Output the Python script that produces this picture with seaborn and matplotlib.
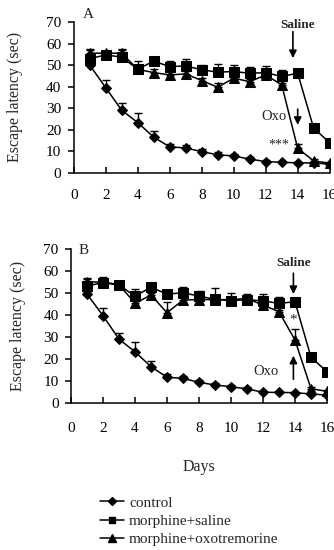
import numpy as np
import pandas as pd
import matplotlib
matplotlib.use("Agg")
import matplotlib.pyplot as plt
import seaborn as sns
from matplotlib.lines import Line2D

sns.set_theme(style="ticks")
plt.rcParams['font.family'] = ['Liberation Serif', 'DejaVu Serif']

days = list(range(1, 17))
groups = ["control", "morphine+saline", "morphine+oxotremorine"]

# Panel A
a_control = [50, 39.5, 29, 23.3, 16.5, 12, 11.5, 9.8, 8.3, 7.8, 6.3, 5.2, 4.8, 4.6, 4.5, 4.0]
a_saline = [53, 54.7, 53.7, 48.1, 51.8, 49.3, 49.6, 47.8, 46.7, 47, 46.2, 46.5, 44.7, 46.2, 20.6, 14]
a_oxo = [55.5, 55.5, 55.5, 48, 46.5, 45.4, 45.9, 42.8, 39.7, 43.9, 42.3, 45.4, 40.8, 11.3, 5.5, 4.4]
a_control_err = [1, 3.7, 3.4, 4.6, 2.8, 1.5, 1.3, 1, 1.2, 1, 0.8, 0.6, 0.5, 0.5, 0.5, 0.5]
a_saline_err = [4, 2, 3.5, 4, 2, 2.5, 3.3, 2, 3.8, 3, 3, 3, 3, 2, 1, 1]
a_oxo_err = [2, 1, 2, 1, 1.5, 1.5, 1.5, 1, 2, 1, 1, 1, 1, 2, 1, 0.5]

# Panel B
b_control = [49.5, 39.7, 29, 23.3, 16.5, 11.7, 11.2, 9.4, 8.2, 7.4, 6.4, 4.9, 4.8, 4.7, 4.1, 3.6]
b_saline = [53.2, 54.7, 53.6, 48.6, 52.6, 49.5, 50.1, 48.6, 47.1, 46.5, 47, 46.4, 45.3, 46, 20.8, 14.2]
b_oxo = [55, 55, 53.8, 45.3, 49.1, 41, 46.8, 47, 47, 47, 47.5, 44.5, 41.5, 28.6, 6.5, 5.3]
b_control_err = [1, 3.7, 3.0, 4.6, 2.8, 1.3, 1.3, 1, 1, 1, 0.8, 0.6, 0.5, 0.5, 0.5, 0.5]
b_saline_err = [3, 2.5, 1.5, 3, 1, 2, 2.8, 2.5, 5, 3.4, 2.5, 3, 2.7, 1.5, 1.5, 1]
b_oxo_err = [2, 1, 1, 1.5, 1, 4.8, 1.5, 2, 1, 1, 1, 1, 1, 5, 1, 0.5]

xticks = [0, 2, 4, 6, 8, 10, 12, 14, 16]
yticks = [0, 10, 20, 30, 40, 50, 60, 70]

markers = {"control": "D", "morphine+saline": "s", "morphine+oxotremorine": "^"}
msizes = {"control": 5.5, "morphine+saline": 6.5, "morphine+oxotremorine": 7}

fig = plt.figure(figsize=(3.34, 5.5), dpi=100)
axA = fig.add_axes([73.7 / 334, (550 - 172.7) / 550, 256 / 334, 150.7 / 550])
axB = fig.add_axes([71 / 334, 147 / 550, 256 / 334, 154 / 550])


def draw(ax, vals, errs, xpad, ylabel_x):
    # draw order: oxo, saline, control
    for g in [groups[2], groups[1], groups[0]]:
        v = vals[g]
        e = errs[g]
        ax.errorbar(days, v, yerr=[np.zeros(len(e)), e], fmt='none', ecolor='black',
                    elinewidth=1.0, capsize=3, capthick=1.0, zorder=2)
        df = pd.DataFrame({"day": days, "val": v})
        sns.lineplot(data=df, x="day", y="val", ax=ax, color="black", lw=1.1,
                     marker=markers[g], markersize=msizes[g], markeredgecolor="black",
                     markerfacecolor="black", zorder=3)
    ax.set_xlim(0, 16)
    ax.set_ylim(0, 70)
    ax.set_xticks(xticks)
    ax.set_yticks(yticks)
    ax.set_xlabel("")
    ax.set_ylabel("Escape latency (sec)", fontsize=11.5)
    ax.yaxis.set_label_coords(ylabel_x, 0.5)
    for s in ["top", "right"]:
        ax.spines[s].set_visible(False)
    for s in ["left", "bottom"]:
        ax.spines[s].set_linewidth(1.1)
        ax.spines[s].set_color("black")
    ax.tick_params(axis="x", direction="in", length=4, width=1.1, pad=xpad, labelsize=11, colors="black")
    ax.tick_params(axis="y", direction="out", length=4, width=1.1, pad=5, labelsize=11, colors="black")


valsA = {groups[0]: a_control, groups[1]: a_saline, groups[2]: a_oxo}
errsA = {groups[0]: a_control_err, groups[1]: a_saline_err, groups[2]: a_oxo_err}
valsB = {groups[0]: b_control, groups[1]: b_saline, groups[2]: b_oxo}
errsB = {groups[0]: b_control_err, groups[1]: b_saline_err, groups[2]: b_oxo_err}

draw(axA, valsA, errsA, 12, -0.198)
draw(axB, valsB, errsB, 14, -0.176)
axB.set_xlabel("Days", fontsize=11.5, labelpad=17)

arrow = dict(arrowstyle="-|>", color="black", lw=1.2, mutation_scale=11, shrinkA=0, shrinkB=0)

# Panel A annotations
axA.text(0.9, 73.5, "A", fontsize=11, ha="center", va="center")
axA.text(14.0, 68.7, "Saline", fontsize=9.5, fontweight="bold", ha="center", va="center")
axA.annotate("", xy=(13.7, 53.2), xytext=(13.7, 65.5), arrowprops=arrow)
axA.text(12.55, 26, "Oxo", fontsize=10.5, ha="center", va="center")
axA.annotate("", xy=(14.0, 22.2), xytext=(14.0, 29.5), arrowprops=arrow)
axA.text(13.45, 13.0, "***", fontsize=10, ha="right", va="center")

# Panel B annotations
axB.text(0.8, 69.5, "B", fontsize=11, ha="center", va="center")
axB.text(13.9, 63.5, "Saline", fontsize=9.5, fontweight="bold", ha="center", va="center")
axB.annotate("", xy=(13.9, 49.5), xytext=(13.9, 59), arrowprops=arrow)
axB.text(12.2, 14.2, "Oxo", fontsize=10.5, ha="center", va="center")
axB.annotate("", xy=(13.9, 21.5), xytext=(13.9, 10.8), arrowprops=arrow)
axB.text(13.9, 37.5, "*", fontsize=11, ha="center", va="center")

handles = [Line2D([0], [0], color="black", lw=1.1, marker=markers[g],
                  markersize=msizes[g] - 1.5, markerfacecolor="black") for g in groups]
fig.legend(handles, groups, loc="upper left", bbox_to_anchor=(100 / 334, 1 - 496 / 550),
           frameon=False, fontsize=11, handlelength=1.6, handletextpad=0.3,
           labelspacing=0.3, borderpad=0, borderaxespad=0, numpoints=1)

fig.savefig("out.png", dpi=100)
